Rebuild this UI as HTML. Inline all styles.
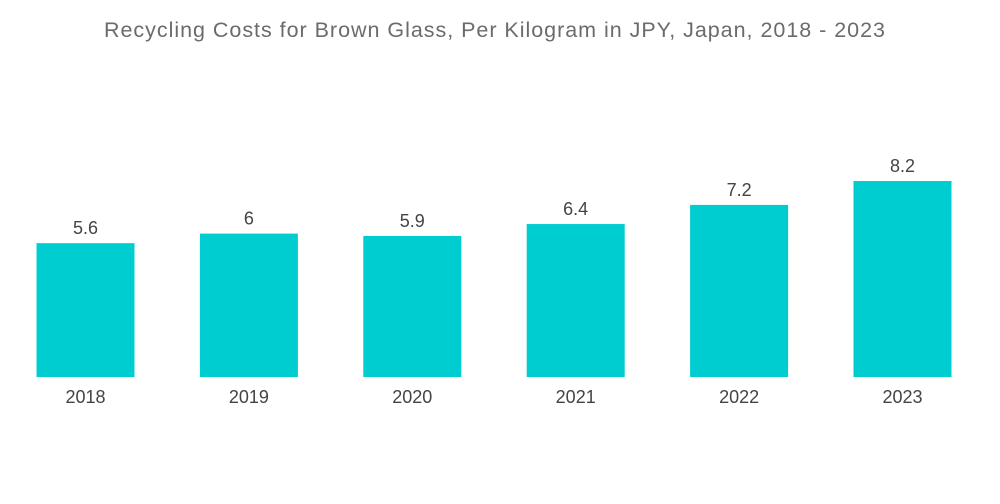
<!DOCTYPE html>
<html><head><meta charset="utf-8"><style>
body{margin:0;background:#fff;}
svg{display:block;font-family:"Liberation Sans",sans-serif;}
</style></head><body>
<svg id="chart" width="1000" height="504">
<text x="104" y="37" textLength="781" lengthAdjust="spacing" font-size="21.5" fill="#6b6b6b">Recycling Costs for Brown Glass, Per Kilogram in JPY, Japan,  2018 - 2023</text>
<g id="bars"></g>
</svg>
<script>
const categories = ["2018","2019","2020","2021","2022","2023"];
const values = [5.6, 6, 5.9, 6.4, 7.2, 8.2];
const valueLabels = ["5.6","6","5.9","6.4","7.2","8.2"];
const baseY = 377, pxPerUnit = 23.9, firstCenter = 85.5, step = 163.4, barW = 98;
const x = i => firstCenter + i * step;
const y = v => baseY - v * pxPerUnit;
const g = document.getElementById('bars');
const NS = 'http://www.w3.org/2000/svg';
categories.forEach((c, i) => {
  const r = document.createElementNS(NS, 'rect');
  r.setAttribute('x', x(i) - barW / 2);
  r.setAttribute('y', y(values[i]));
  r.setAttribute('width', barW);
  r.setAttribute('height', baseY - y(values[i]));
  r.setAttribute('fill', '#00cdd0');
  
  
  g.appendChild(r);
  const t = document.createElementNS(NS, 'text');
  t.setAttribute('x', x(i));
  t.setAttribute('y', y(values[i]) - 9);
  t.setAttribute('text-anchor', 'middle');
  t.setAttribute('font-size', '18');
  t.setAttribute('fill', '#444');
  t.textContent = valueLabels[i];
  
  
  g.appendChild(t);
  const l = document.createElementNS(NS, 'text');
  l.setAttribute('x', x(i));
  l.setAttribute('y', 403);
  l.setAttribute('text-anchor', 'middle');
  l.setAttribute('font-size', '18');
  l.setAttribute('fill', '#444');
  l.textContent = c;
  
  
  g.appendChild(l);
});
</script>
</body></html>
